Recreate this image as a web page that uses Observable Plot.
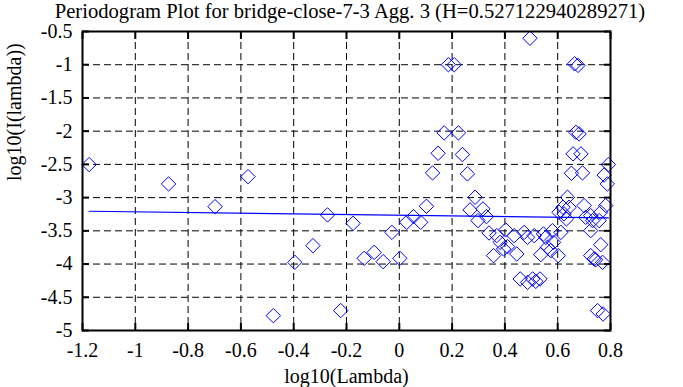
<!DOCTYPE html>
<html>
<head>
<meta charset="utf-8">
<script src="https://cdn.jsdelivr.net/npm/d3@7"></script>
<script src="https://cdn.jsdelivr.net/npm/@observablehq/plot@0.6"></script>
<style>
  html, body { margin: 0; padding: 0; background: #fff; }
  #wrap { width: 683px; height: 387px; overflow: hidden; font-family: "Liberation Serif", "Times New Roman", serif; }
  #title { height: 26px; line-height: 22px; font-size: 20.6px; color: #000; padding-left: 17px; width: 666px; text-align: center; white-space: nowrap; }
</style>
</head>
<body>
<div id="wrap">
  <div id="title"></div>
  <div id="chart"></div>
</div>
<script>
const titleText = "Periodogram Plot for bridge-close-7-3 Agg. 3 (H=0.527122940289271)";
const xLabel = "log10(Lambda)";
const yLabel = "log10(I(lambda))";
const xTicks = [-1.2, -1, -0.8, -0.6, -0.4, -0.2, 0, 0.2, 0.4, 0.6, 0.8];
const yTicks = [-0.5, -1, -1.5, -2, -2.5, -3, -3.5, -4, -4.5, -5];

const logLambda = [
  -1.175, -0.874, -0.573, -0.698, -0.272, -0.175, -0.327, -0.396, -0.477, -0.222,
  -0.133, -0.095, -0.061, 0.002, -0.028, 0.028, 0.054, 0.081, 0.103,
  0.186, 0.208, 0.170, 0.224, 0.147, 0.239, 0.126, 0.258,
  0.287, 0.268, 0.317, 0.298, 0.330,
  0.495, 0.664, 0.677, 0.669, 0.681, 0.658, 0.688, 0.652, 0.694,
  0.792, 0.776, 0.788,
  0.637, 0.620, 0.643, 0.624, 0.633, 0.605, 0.700, 0.706, 0.725, 0.732, 0.763, 0.782, 0.757, 0.725,
  0.340, 0.369, 0.403, 0.435, 0.473, 0.511, 0.546, 0.580, 0.612,
  0.382, 0.395, 0.357, 0.410, 0.445, 0.536, 0.561, 0.584, 0.574, 0.602, 0.555, 0.486,
  0.458, 0.486, 0.505, 0.517, 0.533,
  0.763, 0.725, 0.738, 0.770, 0.744, 0.751, 0.772
];
const logPeriodogram = [
  -2.503, -2.794, -2.684, -3.136, -3.260, -3.387, -3.723, -3.974, -4.777, -4.700,
  -3.914, -3.824, -3.964, -3.914, -3.523, -3.372, -3.286, -3.372, -3.131,
  -1.000, -1.000, -2.026, -2.026, -2.333, -2.352, -2.628, -2.643,
  -2.995, -3.185, -3.170, -3.346, -3.286,
  -0.601, -0.986, -1.010, -2.017, -2.041, -2.342, -2.342, -2.634, -2.628,
  -2.503, -2.660, -2.794,
  -2.995, -3.146, -3.146, -3.245, -3.321, -3.221, -3.120, -3.297, -3.271, -3.346, -3.221, -3.120, -3.346, -3.497,
  -3.532, -3.572, -3.486, -3.572, -3.523, -3.572, -3.547, -3.497, -3.523,
  -3.673, -3.773, -3.873, -3.738, -3.848, -3.858, -3.748, -3.673, -3.798, -3.873, -3.598, -3.598,
  -4.224, -4.276, -4.224, -4.260, -4.224,
  -3.708, -3.873, -3.923, -3.974, -3.935, -4.700, -4.752
];
const fitX = [-1.175, 0.792];
const fitY = [-3.205, -3.305];

const points = logLambda.map((x, i) => ({x, y: logPeriodogram[i]}));
const fit = fitX.map((x, i) => ({x, y: fitY[i]}));

document.getElementById("title").textContent = titleText;

const fmt = d => String(d);
const blank = () => "";

const chart = Plot.plot({
  width: 683,
  height: 361,
  marginTop: 5,
  marginBottom: 57,
  marginLeft: 82,
  marginRight: 73,
  style: {fontFamily: "'Liberation Serif', 'Times New Roman', serif", fontSize: "20px", background: "#fff", color: "#000", overflow: "visible"},
  x: {domain: [-1.2, 0.8]},
  y: {domain: [-5, -0.5]},
  marks: [
    Plot.gridX(xTicks, {stroke: "#000", strokeOpacity: 1, strokeWidth: 1, strokeDasharray: "7,4"}),
    Plot.gridY(yTicks, {stroke: "#000", strokeOpacity: 1, strokeWidth: 1, strokeDasharray: "7,4"}),
    Plot.line(fit, {x: "x", y: "y", stroke: "#0000ff", strokeWidth: 1.2}),
    Plot.dot(points, {x: "x", y: "y", symbol: "diamond2", r: 6.5, stroke: "#0000ff", strokeWidth: 1, fill: "none"}),
    Plot.frame({stroke: "#000", strokeWidth: 2}),
    Plot.axisX(xTicks, {anchor: "bottom", tickSize: -7, strokeWidth: 2, tickFormat: blank, label: null}),
    Plot.axisX(xTicks, {anchor: "top", tickSize: -7, strokeWidth: 2, tickFormat: blank, label: null}),
    Plot.axisY(yTicks, {anchor: "left", tickSize: -7, strokeWidth: 2, tickFormat: blank, label: null}),
    Plot.axisY(yTicks, {anchor: "right", tickSize: -7, strokeWidth: 2, tickFormat: blank, label: null}),
    Plot.axisX(xTicks, {anchor: "bottom", tickSize: 0, tickPadding: 12, tickFormat: fmt, label: null, fontSize: 20}),
    Plot.axisY(yTicks, {anchor: "left", tickSize: 0, tickPadding: 10, tickFormat: fmt, label: null, fontSize: 20}),
    Plot.text([xLabel], {text: d => d, frameAnchor: "bottom", lineAnchor: "top", dy: 38, fontSize: 20}),
    Plot.text([yLabel], {text: d => d, frameAnchor: "left", rotate: -90, dx: -68, fontSize: 20})
  ]
});
document.getElementById("chart").appendChild(chart);
</script>
</body>
</html>
